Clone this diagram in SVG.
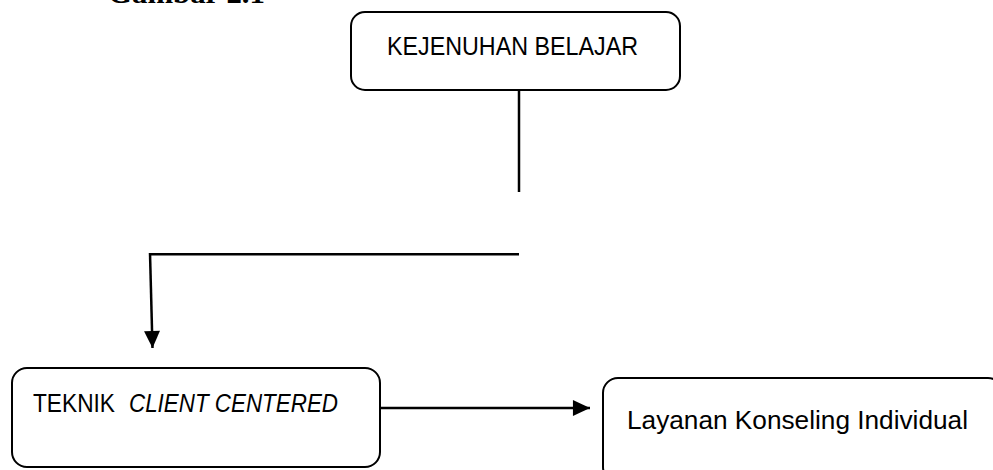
<svg xmlns="http://www.w3.org/2000/svg" width="993" height="470" viewBox="0 0 993 470">
<defs>
<style>
.box{fill:#fff;stroke:#000;stroke-width:2}
.lbl{font-family:"Liberation Sans",Arial,sans-serif;font-size:25px;fill:#000}
.it{font-style:italic}
.con{stroke:#000;stroke-width:2.5;fill:none}
.title{font-family:"Liberation Serif","Times New Roman",serif;font-weight:bold;font-size:30px;fill:#000}
</style>
<marker id="ah" markerUnits="userSpaceOnUse" markerWidth="18" markerHeight="16" viewBox="0 0 16 15" refX="16" refY="7.5" orient="auto">
<path d="M0,0 L16,7.5 L0,15 Z" fill="#000"/>
</marker>
</defs>
<rect width="993" height="470" fill="#fff"/>
<text class="title" x="108" y="3" textLength="157" lengthAdjust="spacingAndGlyphs">Gambar 2.1</text>
<g id="n1">
<rect class="box" x="351" y="12" width="329" height="78" rx="14"/>
<text class="lbl" x="387" y="54.5" textLength="251" lengthAdjust="spacingAndGlyphs">KEJENUHAN BELAJAR</text>
</g>
<g id="n2">
<rect class="box" x="12" y="368" width="368" height="99" rx="15"/>
<text class="lbl" x="33" y="412" textLength="82" lengthAdjust="spacingAndGlyphs">TEKNIK</text>
<text class="lbl it" x="129" y="412" textLength="209" lengthAdjust="spacingAndGlyphs">CLIENT CENTERED</text>
</g>
<g id="n3">
<rect class="box" x="603" y="378" width="400" height="104" rx="15"/>
<text class="lbl" x="627" y="429" textLength="341" lengthAdjust="spacingAndGlyphs">Layanan Konseling Individual</text>
</g>
<g id="connectors">
<line class="con" x1="519" y1="90" x2="519" y2="192"/>
<line class="con" x1="149" y1="254.3" x2="519" y2="254.3"/>
<line class="con" x1="150" y1="253" x2="152.5" y2="348" marker-end="url(#ah)"/>
<line class="con" x1="380" y1="408" x2="590" y2="408" marker-end="url(#ah)"/>
</g>
</svg>
